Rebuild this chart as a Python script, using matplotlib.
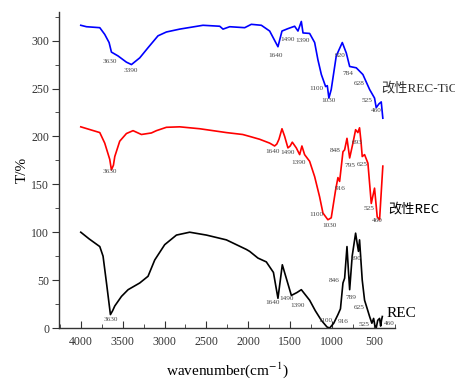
import matplotlib.pyplot as plt
from matplotlib.ticker import MultipleLocator

plt.rcParams["mathtext.fontset"] = "stix"

# REC (black)
rec_x = [4000, 3900, 3773, 3734, 3690, 3646, 3620, 3594, 3514, 3435, 3296, 3197, 3117, 2998,
         2858, 2700, 2500, 2262, 2023, 1984, 1885, 1785, 1700, 1646, 1594, 1540, 1486, 1420,
         1367, 1268, 1200, 1128, 1060, 1029, 980, 930, 900, 870, 850, 822, 805, 790, 760, 719,
         700, 685, 672, 640, 612, 580, 552, 525, 504, 490, 473, 455, 433, 420, 410, 400]
rec_y = [100, 93, 85, 75, 45, 14, 18, 23, 33, 40, 47, 54, 71, 87,
         97, 100, 97, 92, 82, 80, 73, 69, 58, 31, 66, 50, 34, 37,
         40, 29, 18, 8, 1, 0, 5, 14, 20, 47, 52, 85, 60, 40, 75, 99,
         88, 80, 92, 50, 29, 20, 12, 5, 10, 3, 0, 8, 10, 2, 8, 12]

# 改性REC (red)
mrec_x = [4000, 3773, 3714, 3654, 3634, 3610, 3594, 3535, 3455, 3376, 3276, 3157, 3097, 2978,
          2819, 2580, 2262, 2067, 1984, 1864, 1745, 1686, 1660, 1634, 1598, 1566, 1527, 1500,
          1475, 1427, 1387, 1360, 1328, 1268, 1208, 1149, 1109, 1050, 1010, 958, 930, 910, 870,
          850, 822, 790, 751, 719, 692, 672, 655, 640, 612, 572, 532, 493, 461, 433, 394]
mrec_y = [210, 204, 193, 176, 165, 170, 179, 195, 203, 206, 202, 203.6, 206, 209.5,
          210, 208, 204, 202, 200, 197, 193, 190, 192, 197, 208, 200, 188, 190,
          194, 188, 181, 190, 181, 174, 158, 137, 120, 113, 115, 144, 157, 153, 184,
          186, 198, 177.5, 193, 207, 204, 209, 195, 179, 181, 172, 130, 146, 116, 113, 169]

# 改性REC-TiO2 (blue)
tio_x = [4000, 3932, 3773, 3714, 3662, 3634, 3555, 3455, 3395, 3296, 3197, 3078, 2978, 2819,
         2541, 2341, 2302, 2222, 2043, 1964, 1844, 1745, 1646, 1598, 1527, 1447, 1407, 1367,
         1347, 1268, 1208, 1169, 1128, 1077, 1057, 1038, 1010, 950, 878, 830, 790, 711, 632,
         552, 493, 473, 440, 413, 394]
tio_y = [316, 314.5, 313.5, 306.5, 298, 288, 284, 277.5, 275, 282, 292.6, 305, 309, 312,
         316, 315, 312, 314.5, 313.5, 317, 316, 310, 293.6, 310, 312.5, 315, 310, 320,
         308, 307.5, 298, 280, 264.6, 252, 253, 240, 249, 284, 298, 287, 273, 271.6, 264.6,
         249, 240, 230, 234, 236, 219]

# peak labels: text, x, y
rec_peaks = [("3630", 3640, 9), ("1640", 1715, 27), ("1490", 1540, 31), ("1390", 1407, 24),
             ("1100", 1077, 8), ("916", 862, 7), ("846", 970, 50), ("789", 770, 32),
             ("690", 711, 73), ("625", 672, 21), ("525", 624, 4), ("460", 313, 5)]
mrec_peaks = [("3630", 3650, 163), ("1640", 1710, 184), ("1490", 1530, 183), ("1390", 1396, 173),
              ("1100", 1188, 119), ("1030", 1029, 107), ("916", 902, 146), ("848", 958, 185),
              ("795", 782, 170), ("693", 703, 194), ("625", 644, 171), ("525", 564, 125),
              ("460", 461, 112)]
tio_peaks = [("3630", 3654, 278), ("3390", 3407, 269), ("1640", 1673, 284), ("1490", 1534, 301),
             ("1390", 1355, 300), ("1100", 1188, 250), ("1030", 1038, 237), ("920", 902, 284),
             ("784", 811, 266), ("628", 672, 255), ("525", 584, 237), ("460", 473, 227)]

fig = plt.figure(figsize=(4.56, 3.83), dpi=100)
ax = fig.add_axes([0.129, 0.1436, 0.737, 0.8254])

ax.plot(rec_x, rec_y, color="black", lw=1.2)
ax.plot(mrec_x, mrec_y, color="#ff0000", lw=1.2)
ax.plot(tio_x, tio_y, color="#0000ff", lw=1.2)

for peaks in (rec_peaks, mrec_peaks, tio_peaks):
    for txt, px, py in peaks:
        ax.text(px, py, txt, fontsize=5.2, family="Liberation Serif", color="#444444",
                ha="center", va="center")

ax.text(350, 15, "REC", fontsize=11, family="Liberation Serif", ha="left", va="center",
        clip_on=False)
ax.text(334, 124, "改性REC", fontsize=9.5, family=["Noto Sans CJK SC", "DejaVu Sans"],
        ha="left", va="center", clip_on=False)
# the label runs past the right edge, as in the original figure
ax.text(418, 251, "改性REC-TiO₂", fontsize=9.5,
        family=["Liberation Serif", "Noto Sans CJK SC", "DejaVu Sans"],
        color="#333333", ha="left", va="center", clip_on=False)

ax.set_xlim(4262, 250)
ax.set_ylim(0, 330)
ax.xaxis.set_minor_locator(MultipleLocator(250))
ax.yaxis.set_major_locator(MultipleLocator(50))
ax.yaxis.set_minor_locator(MultipleLocator(25))
ax.set_xticks([4000, 3500, 3000, 2500, 2000, 1500, 1000, 500])

ax.spines["top"].set_visible(False)
ax.spines["right"].set_visible(False)
for s in ("left", "bottom"):
    ax.spines[s].set_color("#333333")
    ax.spines[s].set_linewidth(1.0)

ax.tick_params(axis="x", which="both", direction="in", colors="#333333", labelsize=8.5, pad=6)
ax.tick_params(axis="y", which="both", direction="out", colors="#333333", labelsize=8.5, pad=2)
ax.tick_params(which="major", length=5)
ax.tick_params(which="minor", length=3)
for lab in ax.get_xticklabels() + ax.get_yticklabels():
    lab.set_family("Liberation Serif")

ax.set_xlabel("wavenumber(cm$^{-1}$)", fontsize=11, family="Liberation Serif", labelpad=9)
ax.set_ylabel("T/%", fontsize=11, family="Liberation Serif", labelpad=2)

fig.savefig("out.png", dpi=100)
